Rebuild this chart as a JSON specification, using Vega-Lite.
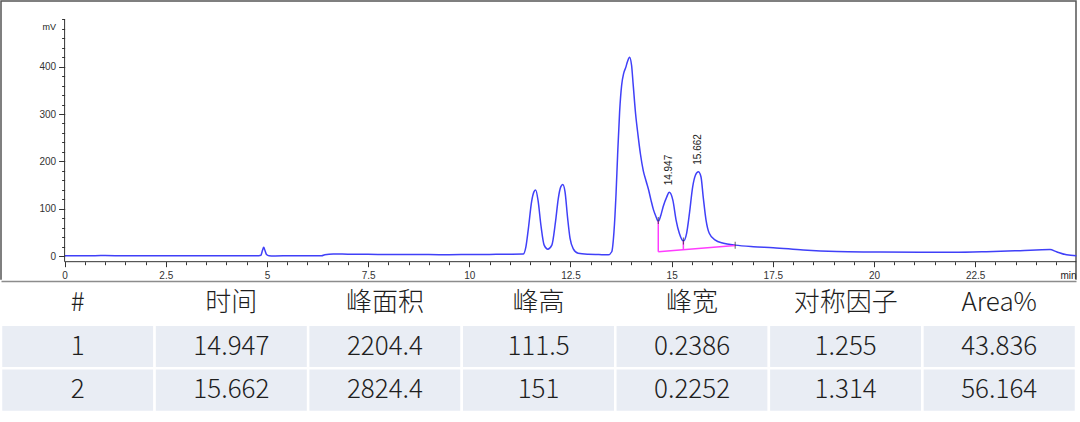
{
  "$schema": "https://vega.github.io/schema/vega-lite/v6.json",
  "description": "HPLC chromatogram with peak table (two integrated peaks).",
  "width": 1075,
  "height": 411,
  "autosize": {"type": "none"},
  "padding": {"left": 1, "top": 1, "right": 4, "bottom": 10},
  "background": "white",
  "config": {
    "view": {"stroke": "#555555", "strokeWidth": 1.5},
    "axis": {
      "labelFont": "Liberation Sans",
      "titleFont": "Liberation Sans",
      "labelColor": "#333333",
      "tickColor": "#333333",
      "titleColor": "#222222",
      "grid": false
    }
  },
  "datasets": {
    "trace": [
      {"time": 0.0, "mV": 0.8}, {"time": 0.5, "mV": 0.6}, {"time": 1.0, "mV": 0.9},
      {"time": 1.5, "mV": 0.5}, {"time": 2.0, "mV": 0.8}, {"time": 2.5, "mV": 0.6},
      {"time": 3.0, "mV": 0.5}, {"time": 3.5, "mV": 0.7}, {"time": 4.0, "mV": 0.4},
      {"time": 4.5, "mV": 0.5}, {"time": 4.8, "mV": 0.6}, {"time": 4.85, "mV": 1.5},
      {"time": 4.89, "mV": 12}, {"time": 4.92, "mV": 18.3}, {"time": 4.95, "mV": 12},
      {"time": 4.99, "mV": 3}, {"time": 5.05, "mV": 0.3}, {"time": 5.2, "mV": 0.2},
      {"time": 5.6, "mV": 0.5}, {"time": 6.0, "mV": 0.3}, {"time": 6.35, "mV": 0.5},
      {"time": 6.43, "mV": 2.8}, {"time": 6.64, "mV": 4.2}, {"time": 7.0, "mV": 3.8},
      {"time": 7.5, "mV": 3.5}, {"time": 8.0, "mV": 3.3}, {"time": 8.5, "mV": 3.0},
      {"time": 9.0, "mV": 3.0}, {"time": 9.5, "mV": 2.8}, {"time": 10.0, "mV": 3.2},
      {"time": 10.5, "mV": 3.4}, {"time": 11.0, "mV": 3.6}, {"time": 11.33, "mV": 4},
      {"time": 11.4, "mV": 20}, {"time": 11.46, "mV": 58}, {"time": 11.54, "mV": 115},
      {"time": 11.6, "mV": 136}, {"time": 11.64, "mV": 139.5}, {"time": 11.7, "mV": 117},
      {"time": 11.77, "mV": 65}, {"time": 11.85, "mV": 23}, {"time": 11.94, "mV": 14.5},
      {"time": 12.04, "mV": 23}, {"time": 12.13, "mV": 72}, {"time": 12.2, "mV": 122},
      {"time": 12.26, "mV": 146}, {"time": 12.31, "mV": 151}, {"time": 12.365, "mV": 136},
      {"time": 12.43, "mV": 80}, {"time": 12.49, "mV": 37}, {"time": 12.57, "mV": 15},
      {"time": 12.69, "mV": 5.6}, {"time": 12.94, "mV": 3.6}, {"time": 13.2, "mV": 3},
      {"time": 13.435, "mV": 2.5}, {"time": 13.52, "mV": 9}, {"time": 13.575, "mV": 51},
      {"time": 13.625, "mV": 129}, {"time": 13.665, "mV": 213}, {"time": 13.715, "mV": 305},
      {"time": 13.765, "mV": 361}, {"time": 13.815, "mV": 386}, {"time": 13.865, "mV": 398},
      {"time": 13.91, "mV": 411}, {"time": 13.96, "mV": 420}, {"time": 14.01, "mV": 403},
      {"time": 14.05, "mV": 362}, {"time": 14.11, "mV": 300}, {"time": 14.17, "mV": 255},
      {"time": 14.23, "mV": 215}, {"time": 14.3, "mV": 180}, {"time": 14.37, "mV": 158},
      {"time": 14.43, "mV": 140}, {"time": 14.49, "mV": 118}, {"time": 14.55, "mV": 98},
      {"time": 14.61, "mV": 84}, {"time": 14.67, "mV": 73}, {"time": 14.73, "mV": 85},
      {"time": 14.79, "mV": 104}, {"time": 14.88, "mV": 125}, {"time": 14.94, "mV": 134.5},
      {"time": 15.03, "mV": 118}, {"time": 15.11, "mV": 76}, {"time": 15.19, "mV": 48},
      {"time": 15.29, "mV": 31.7}, {"time": 15.37, "mV": 48}, {"time": 15.44, "mV": 90},
      {"time": 15.52, "mV": 146}, {"time": 15.59, "mV": 171}, {"time": 15.66, "mV": 178},
      {"time": 15.725, "mV": 167.5}, {"time": 15.78, "mV": 125}, {"time": 15.85, "mV": 76},
      {"time": 15.93, "mV": 48}, {"time": 16.07, "mV": 34}, {"time": 16.28, "mV": 27},
      {"time": 16.57, "mV": 23}, {"time": 17.02, "mV": 19.7}, {"time": 17.51, "mV": 17.6},
      {"time": 18.25, "mV": 12.7}, {"time": 19.08, "mV": 9.5}, {"time": 19.98, "mV": 8.5},
      {"time": 21.14, "mV": 7.7}, {"time": 21.96, "mV": 7.7}, {"time": 22.78, "mV": 9},
      {"time": 23.61, "mV": 11.3}, {"time": 24.35, "mV": 13.5}, {"time": 24.51, "mV": 9},
      {"time": 24.76, "mV": 2.5}, {"time": 25.0, "mV": 0.5}
    ],
    "axisLines": [
      {"t0": 0, "t1": 25, "v0": -12, "v1": -12},
      {"t0": 0, "t1": 0, "v0": -12, "v1": 500}
    ],
    "baseline": [
      {"t0": 14.67, "v0": 74, "t1": 14.67, "v1": 9},
      {"t0": 14.67, "v0": 9, "t1": 16.57, "v1": 22},
      {"t0": 15.29, "v0": 13.2, "t1": 15.29, "v1": 31.7}
    ],
    "peakEnds": [
      {"time": 14.67, "mV": 75},
      {"time": 15.29, "mV": 31.7},
      {"time": 16.57, "mV": 22.5}
    ],
    "peaks": [
      {"time": 14.947, "mV": 134.5, "label": "14.947"},
      {"time": 15.662, "mV": 178, "label": "15.662"}
    ],
    "table": [
      {"row": "h", "col": "c0", "text": "#"},
      {"row": "h", "col": "c1", "text": "时间"},
      {"row": "h", "col": "c2", "text": "峰面积"},
      {"row": "h", "col": "c3", "text": "峰高"},
      {"row": "h", "col": "c4", "text": "峰宽"},
      {"row": "h", "col": "c5", "text": "对称因子"},
      {"row": "h", "col": "c6", "text": "Area%"},
      {"row": "r1", "col": "c0", "text": "1"},
      {"row": "r1", "col": "c1", "text": "14.947"},
      {"row": "r1", "col": "c2", "text": "2204.4"},
      {"row": "r1", "col": "c3", "text": "111.5"},
      {"row": "r1", "col": "c4", "text": "0.2386"},
      {"row": "r1", "col": "c5", "text": "1.255"},
      {"row": "r1", "col": "c6", "text": "43.836"},
      {"row": "r2", "col": "c0", "text": "2"},
      {"row": "r2", "col": "c1", "text": "15.662"},
      {"row": "r2", "col": "c2", "text": "2824.4"},
      {"row": "r2", "col": "c3", "text": "151"},
      {"row": "r2", "col": "c4", "text": "0.2252"},
      {"row": "r2", "col": "c5", "text": "1.314"},
      {"row": "r2", "col": "c6", "text": "56.164"}
    ]
  },
  "layer": [
    {
      "layer": [
        {
          "data": {"name": "trace"},
          "mark": {"type": "line", "interpolate": "monotone", "color": "#4040f8", "strokeWidth": 1.5},
          "encoding": {
            "x": {
              "field": "time", "type": "quantitative",
              "scale": {"domain": [-1.5715, 24.992], "nice": false, "zero": false},
              "axis": {
                "orient": "bottom", "offset": -150.3,
                "values": [0, 2.5, 5, 7.5, 10, 12.5, 15, 17.5, 20, 22.5],
                "labelExpr": "'' + datum.value", "domain": false, "tickSize": 5,
                "labelPadding": 4, "labelFontSize": 10, "labelFlush": false, "labelOverlap": false,
                "title": "min", "titleFontSize": 10, "titleFontWeight": "normal",
                "titleAnchor": "end", "titleAlign": "right", "titleBaseline": "top", "titleY": 9
              }
            },
            "y": {
              "field": "mV", "type": "quantitative",
              "scale": {"domain": [-329.6, 538.8], "nice": false, "zero": false},
              "axis": {
                "orient": "left", "offset": -63.6,
                "values": [0, 100, 200, 300, 400],
                "domain": false, "tickSize": 6, "labelPadding": 3, "labelFontSize": 10,
                "title": "mV", "titleAngle": 0, "titleX": -9, "titleY": 25,
                "titleAlign": "right", "titleBaseline": "middle", "titleFontSize": 9, "titleFontWeight": "normal"
              }
            }
          }
        },
        {
          "data": {"name": "axisLines"},
          "mark": {"type": "rule", "color": "#333333", "strokeWidth": 1},
          "encoding": {
            "x": {
              "field": "t0", "type": "quantitative",
              "scale": {"domain": [-1.5715, 24.992], "nice": false, "zero": false},
              "axis": {
                "orient": "bottom", "offset": -150.3, "domain": false, "labels": false, "tickSize": 3, "title": null,
                "values": [0, 0.5, 1, 1.5, 2, 2.5, 3, 3.5, 4, 4.5, 5, 5.5, 6, 6.5, 7, 7.5, 8, 8.5, 9, 9.5, 10, 10.5, 11, 11.5, 12, 12.5, 13, 13.5, 14, 14.5, 15, 15.5, 16, 16.5, 17, 17.5, 18, 18.5, 19, 19.5, 20, 20.5, 21, 21.5, 22, 22.5, 23, 23.5, 24, 24.5]
              }
            },
            "x2": {"field": "t1"},
            "y": {
              "field": "v0", "type": "quantitative",
              "scale": {"domain": [-329.6, 538.8], "nice": false, "zero": false},
              "axis": {
                "orient": "left", "offset": -63.6, "domain": false, "labels": false, "tickSize": 3, "title": null,
                "values": [0, 20, 40, 60, 80, 100, 120, 140, 160, 180, 200, 220, 240, 260, 280, 300, 320, 340, 360, 380, 400, 420, 440, 460, 480, 500]
              }
            },
            "y2": {"field": "v1"}
          }
        },
        {
          "data": {"name": "baseline"},
          "mark": {"type": "rule", "color": "#ff3cff", "strokeWidth": 1.5},
          "encoding": {
            "x": {"field": "t0", "type": "quantitative", "axis": null},
            "x2": {"field": "t1"},
            "y": {"field": "v0", "type": "quantitative", "axis": null},
            "y2": {"field": "v1"}
          }
        },
        {
          "data": {"name": "peakEnds"},
          "mark": {"type": "tick", "orient": "vertical", "size": 7, "thickness": 1, "color": "#222222"},
          "encoding": {
            "x": {"field": "time", "type": "quantitative", "axis": null},
            "y": {"field": "mV", "type": "quantitative", "axis": null}
          }
        },
        {
          "data": {"name": "peaks"},
          "mark": {"type": "text", "angle": 270, "align": "left", "baseline": "middle", "dx": 7,
                   "font": "Liberation Sans", "fontSize": 10, "color": "#222222"},
          "encoding": {
            "x": {"field": "time", "type": "quantitative", "axis": null},
            "y": {"field": "mV", "type": "quantitative", "axis": null},
            "text": {"field": "label"}
          }
        }
      ],
      "resolve": {"axis": {"x": "independent", "y": "independent"}}
    },
    {
      "data": {"name": "table"},
      "encoding": {
        "x": {
          "field": "col", "type": "nominal",
          "scale": {"domain": ["c0", "c1", "c2", "c3", "c4", "c5", "c6"], "paddingInner": 0, "paddingOuter": 0},
          "axis": {"orient": "top", "offset": -280, "domain": true, "domainColor": "#8c8c8c", "domainWidth": 1.5,
                   "ticks": false, "labels": false, "title": null, "zindex": 1}
        },
        "y": {
          "field": "row", "type": "nominal",
          "scale": {"domain": ["h", "r1", "r2"], "range": [280, 411], "paddingInner": 0, "paddingOuter": 0},
          "axis": null
        }
      },
      "layer": [
        {
          "mark": {"type": "rect", "stroke": "white", "strokeWidth": 2.5},
          "encoding": {
            "fill": {
              "field": "row", "type": "nominal",
              "scale": {"domain": ["h", "r1", "r2"], "range": ["#ffffff", "#e9edf4", "#e9edf4"]},
              "legend": null
            }
          }
        },
        {
          "mark": {"type": "text", "font": "Noto Sans CJK SC", "fontSize": 26, "fontWeight": 300,
                   "color": "#1e1e1e", "align": "center", "baseline": "middle"},
          "encoding": {"text": {"field": "text"}}
        }
      ]
    }
  ],
  "resolve": {"scale": {"x": "independent", "y": "independent"}}
}
